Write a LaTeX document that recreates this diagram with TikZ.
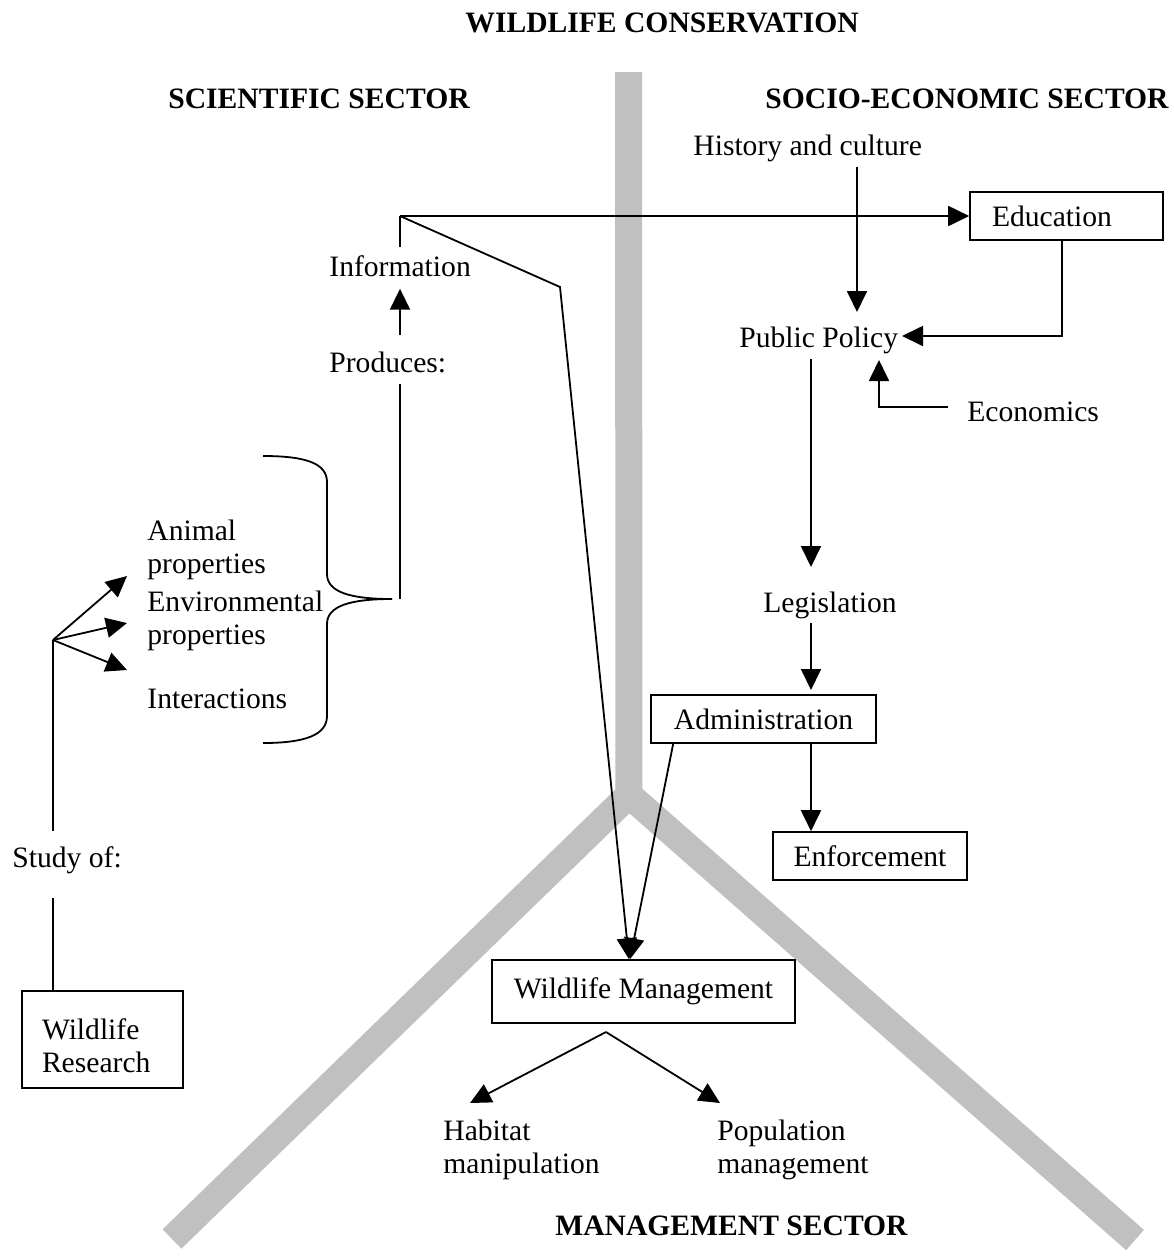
\documentclass[tikz,border=0pt]{standalone}
\usepackage{fontspec}
\setmainfont{Liberation Serif}
\usetikzlibrary{arrows.meta,calc}
\definecolor{bargray}{RGB}{192,192,192}
\begin{document}
\begin{tikzpicture}[x=0.5pt,y=-0.5pt,
  every node/.style={font=\fontsize{14.8}{16.5}\selectfont, inner sep=0pt},
  lbl/.style={anchor=base west, align=left},
  hd/.style={anchor=base west, font=\fontsize{14.8}{16.5}\selectfont\bfseries},
  box/.style={draw, line width=0.8pt, align=center},
  ln/.style={line width=0.9pt},
  arr/.style={ln, -{Triangle[length=10.5pt,width=10pt]}},
  bar/.style={line width=13.5pt, draw=bargray, line join=miter}]
\useasboundingbox (0,0) rectangle (1174,1260);
% grey Y
\draw[bar] (628.5,72) -- (629,796);
\draw[bar] (172,1239) -- (629,795) -- (1135,1240);

% headings
\node[hd] (title) at (465,32) {WILDLIFE CONSERVATION};
\node[hd] (sci) at (168,108) {SCIENTIFIC SECTOR};
\node[hd] (socio) at (765,108) {SOCIO-ECONOMIC SECTOR};
\node[hd] (mgmt) at (555,1235) {MANAGEMENT SECTOR};

% labels (base = last line)
\node[lbl] (hist) at (693,155) {History and culture};
\node[lbl] (info) at (329,276) {Information};
\node[lbl] (prod) at (329,372) {Produces:};
\node[lbl] (pp) at (739,347) {Public Policy};
\node[lbl] (econ) at (967,421) {Economics};
\node[lbl] (animal) at (147,573) {Animal\\properties};
\node[lbl] (envir) at (147,644) {Environmental\\properties};
\node[lbl] (inter) at (147,708) {Interactions};
\node[lbl] (study) at (12,867) {Study of:};
\node[lbl] (legis) at (763,612) {Legislation};
\node[lbl] (habitat) at (443,1173) {Habitat\\manipulation};
\node[lbl] (popul) at (717,1173) {Population\\management};

% boxes
\node[box, minimum width=96.5pt, minimum height=24pt, text width=74.5pt, inner xsep=11pt, align=left] (edu) at (1066.5,216) {Education};
\node[box, minimum width=112.5pt, minimum height=24pt] (admin) at (763.5,719) {Administration};
\node[box, minimum width=97pt, minimum height=24pt] (enf) at (870,856) {Enforcement};
\node[box, minimum width=151.5pt, minimum height=31.5pt] (wm) at (643.5,991.5) {Wildlife Management};
\node[box, minimum width=80.5pt, minimum height=48.5pt, text width=60.5pt, inner xsep=10pt, align=left, text depth=10pt] (res) at (102.5,1039.5) {Wildlife\\Research};

% coordinates
\coordinate (split) at (400,216);
\coordinate (bend) at (560,287);
\coordinate (btip) at (400,599);
\coordinate (fork) at (53,640);
\coordinate (ta) at (127,576);
\coordinate (tb) at (127,623);
\coordinate (tc) at (127,670);
\coordinate (h1) at (857,167);
\coordinate (h2) at (857,312);
\coordinate (e1) at (1062,336);
\coordinate (pptip) at (902,336);
\coordinate (ec1) at (948,407);
\coordinate (ec2) at (879,407);
\coordinate (ec3) at (879,360);
\coordinate (v1) at (811,359);
\coordinate (v2) at (811,567);
\coordinate (v3) at (811,623);
\coordinate (v4) at (811,690);
\coordinate (wmb) at (606,1032);
\coordinate (th) at (470,1103);
\coordinate (tp) at (720,1103);

% information flow
\draw[ln] ($(info.north -| split)+(0,-8)$) -- (split);
\draw[arr] (split) -- (edu.west);
\draw[arr] (split) -- (bend) -- ($(wm.north)+(-14.5,0)$);
\draw[arr] ($(prod.north -| split)+(0,-16)$) -- ($(info.south -| split)+(0,12)$);

% brace
\draw[ln] (263,456) .. controls (305,456) and (327,463) .. (327,482)
  -- (327,574) .. controls (327,592) and (350,599) .. (392,599);
\draw[ln] (392,599) .. controls (350,599) and (327,606) .. (327,624)
  -- (327,716) .. controls (327,735) and (305,743) .. (263,743);
\draw[ln] (btip) -- ($(prod.south -| split)+(0,11)$);

% study
\draw[ln] ($(study.north -| fork)+(0,-15)$) -- (fork);
\draw[arr] (fork) -- (ta);
\draw[arr] (fork) -- (tb);
\draw[arr] (fork) -- (tc);
\draw[ln] ($(study.south -| fork)+(0,24)$) -- (res.north -| fork);

% socio-economic
\draw[arr] (h1) -- (h2);
\draw[arr] (edu.south -| e1) -- (e1) -- (pptip);
\draw[arr] (ec1) -- (ec2) -- (ec3);
\draw[arr] (v1) -- (v2);
\draw[arr] (v3) -- (v4);
\draw[arr] (admin.south -| v1) -- (enf.north -| v1);
\draw[arr] ($(admin.south west)+(23,0)$) -- ($(wm.north)+(-13.5,0)$);

% management
\draw[arr] (wmb) -- (th);
\draw[arr] (wmb) -- (tp);
\end{tikzpicture}
\end{document}
